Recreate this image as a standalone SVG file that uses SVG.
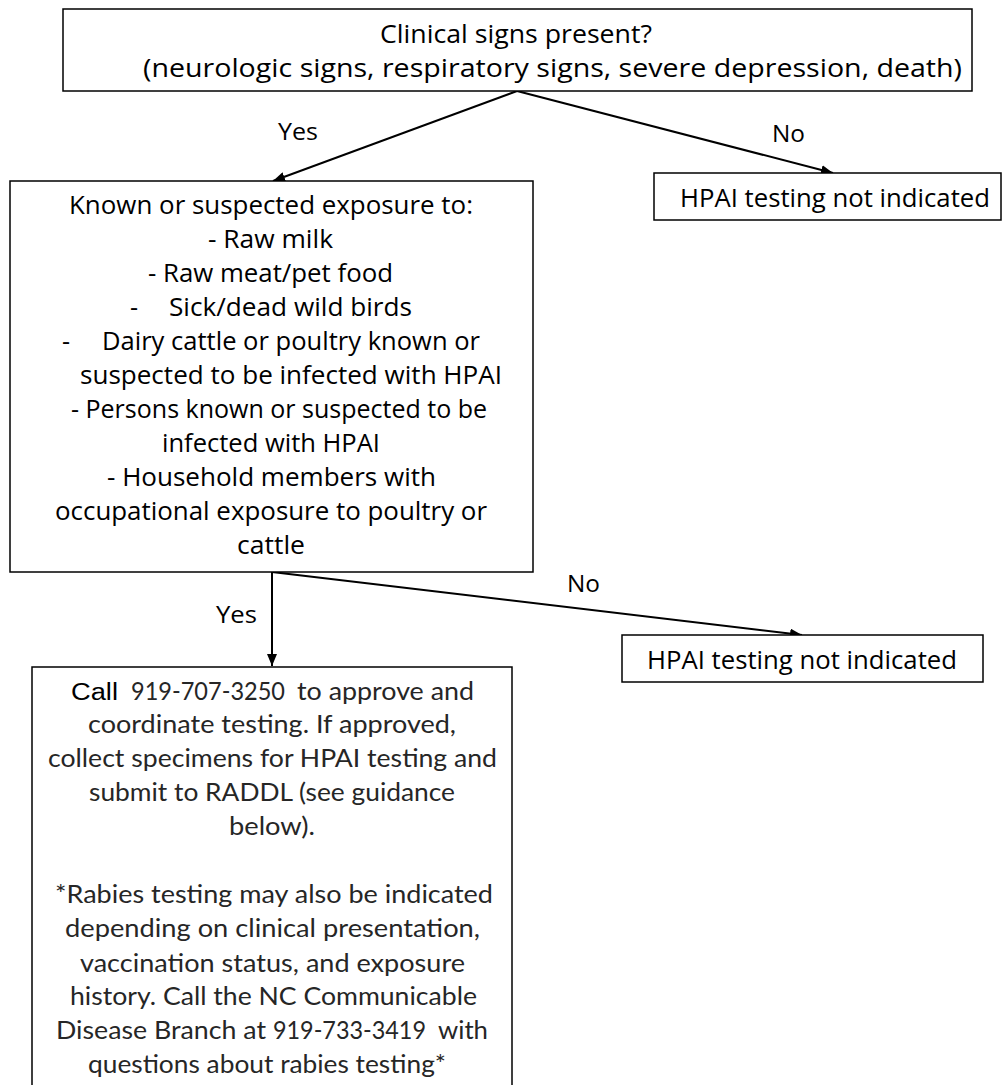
<svg xmlns="http://www.w3.org/2000/svg" width="1003" height="1085" viewBox="0 0 1003 1085">
<style>
.box{fill:#fff;stroke:#000;stroke-width:1.5}
.t{font-family:"Open Sans","Liberation Sans",sans-serif;font-size:25px;fill:#000}
.b{font-family:Lato,"Open Sans",sans-serif;font-size:25px;fill:#262626}
.ar{font-family:"Liberation Sans",Arial,sans-serif;font-size:23px;fill:#000}
.lbl{font-family:"Open Sans","Liberation Sans",sans-serif;font-size:24px;fill:#000}
.con{stroke:#000;stroke-width:2;fill:none}
</style>
<defs>
<marker id="ah" markerUnits="userSpaceOnUse" markerWidth="12" markerHeight="10" refX="12" refY="5" orient="auto">
<path d="M0,0 L12,5 L0,10 z" fill="#000"/>
</marker>
</defs>
<rect width="1003" height="1085" fill="#fff"/>
<g id="connectors">
<line class="con" x1="517" y1="91" x2="273" y2="181" marker-end="url(#ah)"/>
<line class="con" x1="517" y1="91" x2="833" y2="173" marker-end="url(#ah)"/>
<line class="con" x1="272" y1="572" x2="272" y2="666" marker-end="url(#ah)"/>
<line class="con" x1="272" y1="572" x2="802" y2="635" marker-end="url(#ah)"/>
<text class="lbl" x="278" y="140" textLength="40" lengthAdjust="spacingAndGlyphs">Yes</text>
<text class="lbl" x="772" y="142" textLength="33" lengthAdjust="spacingAndGlyphs">No</text>
<text class="lbl" x="567" y="592" textLength="33" lengthAdjust="spacingAndGlyphs">No</text>
<text class="lbl" x="216" y="623" textLength="41" lengthAdjust="spacingAndGlyphs">Yes</text>
</g>
<g id="node-clinical">
<rect class="box" x="63" y="9" width="909" height="82"/>
<text class="t"><tspan x="380" y="43" textLength="272" lengthAdjust="spacingAndGlyphs">Clinical signs present?</tspan><tspan x="143" y="77" textLength="819" lengthAdjust="spacingAndGlyphs">(neurologic signs, respiratory signs, severe depression, death)</tspan></text>
</g>
<g id="node-no1">
<rect class="box" x="654" y="173" width="347" height="47"/>
<text class="t" x="680" y="207" textLength="310" lengthAdjust="spacingAndGlyphs">HPAI testing not indicated</text>
</g>
<g id="node-exposure">
<rect class="box" x="10" y="181" width="523" height="391"/>
<text class="t">
<tspan x="69" y="214" textLength="404" lengthAdjust="spacingAndGlyphs">Known or suspected exposure to:</tspan>
<tspan x="208" y="248" textLength="125" lengthAdjust="spacingAndGlyphs">- Raw milk</tspan>
<tspan x="148" y="282" textLength="245" lengthAdjust="spacingAndGlyphs">- Raw meat/pet food</tspan>
<tspan x="130" y="316">-</tspan>
<tspan x="169" y="316" textLength="243" lengthAdjust="spacingAndGlyphs">Sick/dead wild birds</tspan>
<tspan x="62" y="350">-</tspan>
<tspan x="102" y="350" textLength="378" lengthAdjust="spacingAndGlyphs">Dairy cattle or poultry known or</tspan>
<tspan x="80" y="384" textLength="422" lengthAdjust="spacingAndGlyphs">suspected to be infected with HPAI</tspan>
<tspan x="71" y="418" textLength="416" lengthAdjust="spacingAndGlyphs">- Persons known or suspected to be</tspan>
<tspan x="162" y="452" textLength="218" lengthAdjust="spacingAndGlyphs">infected with HPAI</tspan>
<tspan x="107" y="486" textLength="329" lengthAdjust="spacingAndGlyphs">- Household members with</tspan>
<tspan x="55" y="520" textLength="432" lengthAdjust="spacingAndGlyphs">occupational exposure to poultry or</tspan>
<tspan x="237" y="554" textLength="68" lengthAdjust="spacingAndGlyphs">cattle</tspan>
</text>
</g>
<g id="node-no2">
<rect class="box" x="622" y="635" width="361" height="47"/>
<text class="t" x="647" y="669" textLength="310" lengthAdjust="spacingAndGlyphs">HPAI testing not indicated</text>
</g>
<g id="node-call">
<rect class="box" x="32" y="667" width="480" height="440"/>
<text class="ar" x="71" y="700" textLength="47" lengthAdjust="spacingAndGlyphs">Call</text>
<text class="b">
<tspan x="131" y="700" textLength="154" lengthAdjust="spacingAndGlyphs">919-707-3250</tspan>
<tspan x="297" y="700" textLength="177" lengthAdjust="spacingAndGlyphs">to approve and</tspan>
<tspan x="88" y="733" textLength="368" lengthAdjust="spacingAndGlyphs">coordinate testing. If approved,</tspan>
<tspan x="48" y="767" textLength="449" lengthAdjust="spacingAndGlyphs">collect specimens for HPAI testing and</tspan>
<tspan x="89" y="801" textLength="366" lengthAdjust="spacingAndGlyphs">submit to RADDL (see guidance</tspan>
<tspan x="229" y="835" textLength="86" lengthAdjust="spacingAndGlyphs">below).</tspan>
<tspan x="55" y="903" textLength="438" lengthAdjust="spacingAndGlyphs">*Rabies testing may also be indicated</tspan>
<tspan x="65" y="937" textLength="415" lengthAdjust="spacingAndGlyphs">depending on clinical presentation,</tspan>
<tspan x="80" y="972" textLength="385" lengthAdjust="spacingAndGlyphs">vaccination status, and exposure</tspan>
<tspan x="70" y="1005" textLength="407" lengthAdjust="spacingAndGlyphs">history. Call the NC Communicable</tspan>
<tspan x="56" y="1039" textLength="210" lengthAdjust="spacingAndGlyphs">Disease Branch at</tspan>
<tspan x="273" y="1039" textLength="153" lengthAdjust="spacingAndGlyphs">919-733-3419</tspan>
<tspan x="438" y="1039" textLength="50" lengthAdjust="spacingAndGlyphs">with</tspan>
<tspan x="88" y="1073" textLength="358" lengthAdjust="spacingAndGlyphs">questions about rabies testing*</tspan>
</text>
</g>
</svg>
